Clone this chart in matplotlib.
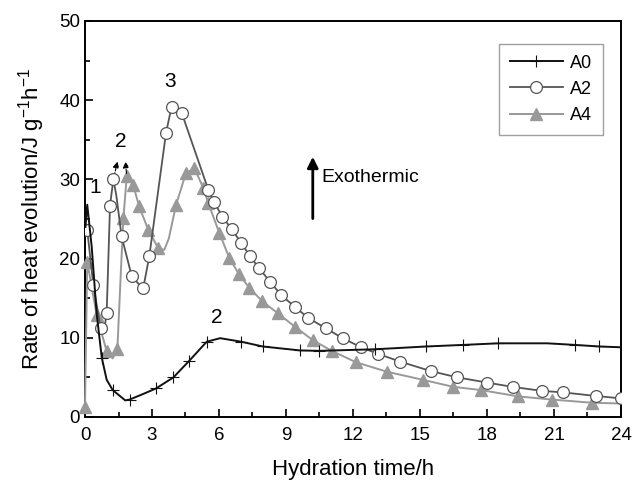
import matplotlib
matplotlib.use('Agg')
import matplotlib.pyplot as plt
from matplotlib.lines import Line2D

plt.rcParams['font.family'] = ['Liberation Sans', 'DejaVu Sans']
plt.rcParams['mathtext.fontset'] = 'custom'
plt.rcParams['mathtext.rm'] = 'Liberation Sans'
plt.rcParams['mathtext.it'] = 'Liberation Sans'

# A0: hydration time (h) / heat rate, marker indices
a0_h = [0.02, 0.1, 0.3, 0.52, 0.75, 0.97, 1.24, 1.8, 2.0, 2.6, 3.18, 3.96, 4.67, 5.45, 6.05,
        7.0, 7.96, 9.63, 10.5, 13.0, 15.27, 16.94, 18.5, 20.7, 21.94, 23.03, 24.0]
a0_v = [24.0, 26.8, 21.5, 13.1, 7.5, 4.7, 3.4, 2.1, 2.2, 2.9, 3.6, 5.0, 7.1, 9.5, 9.95,
        9.5, 8.9, 8.4, 8.35, 8.55, 8.9, 9.1, 9.3, 9.3, 9.1, 8.9, 8.8]
a0_marks = [4, 6, 8, 10, 11, 12, 13, 15, 16, 17, 18, 19, 20, 21, 22, 24, 25]

a2_h = [0.1, 0.37, 0.7, 0.85, 0.97, 1.12, 1.27, 1.4, 1.64, 2.09, 2.4, 2.61, 2.88, 3.63, 3.88,
        4.33, 5.52, 5.79, 6.15, 6.57, 6.99, 7.39, 7.79, 8.28, 8.78, 9.4, 10.0, 10.78, 11.54,
        12.36, 13.1, 14.1, 15.48, 16.67, 17.99, 19.15, 20.45, 21.42, 22.88, 24.0]
a2_v = [23.6, 16.7, 11.2, 10.8, 13.1, 26.7, 30.0, 28.0, 22.8, 17.8, 16.8, 16.3, 20.3, 35.9, 39.2,
        38.4, 28.7, 27.1, 25.3, 23.7, 22.0, 20.3, 18.8, 17.1, 15.4, 13.9, 12.5, 11.2, 9.95,
        8.8, 8.0, 7.0, 5.8, 5.0, 4.35, 3.8, 3.3, 3.1, 2.65, 2.35]
a2_marks = [0, 1, 2, 4, 5, 6, 8, 9, 11, 12, 13, 14, 15, 16, 17, 18, 19, 20, 21, 22, 23, 24,
            25, 26, 27, 28, 29, 30, 31, 32, 33, 34, 35, 36, 37, 38, 39]

a4_h = [0.0, 0.1, 0.52, 0.97, 1.24, 1.45, 1.6, 1.72, 1.87, 2.16, 2.42, 2.84, 3.28, 3.55, 3.75,
        4.08, 4.52, 4.9, 5.3, 5.52, 6.02, 6.46, 6.9, 7.36, 7.94, 8.63, 9.4, 10.2, 11.05,
        12.14, 13.54, 15.12, 16.5, 17.73, 19.4, 20.9, 22.7, 24.0]
a4_v = [1.3, 19.6, 12.9, 8.3, 7.4, 8.6, 18.0, 25.1, 30.4, 29.3, 26.6, 23.6, 21.3, 21.1, 22.5,
        26.8, 30.8, 31.4, 28.9, 27.0, 23.2, 20.1, 18.0, 16.3, 14.6, 13.1, 11.4, 9.7, 8.35,
        6.9, 5.7, 4.7, 3.8, 3.4, 2.6, 2.2, 1.8, 1.7]
a4_marks = [0, 1, 2, 3, 5, 7, 8, 9, 10, 11, 12, 15, 16, 17, 18, 19, 20, 21, 22, 23, 24, 25,
            26, 27, 28, 29, 30, 31, 32, 33, 34, 35, 36]

c0, c2, c4 = '#111111', '#555555', '#999999'

fig = plt.figure(figsize=(6.32, 4.82), dpi=100)
ax = fig.add_axes([0.1345, 0.1349, 0.848, 0.8216])

ax.plot(a4_h, a4_v, color=c4, lw=1.4, marker='^', ms=8.5, mfc=c4, mec=c4,
        markevery=a4_marks, clip_on=False, zorder=3)
ax.plot(a2_h, a2_v, color=c2, lw=1.3, marker='o', ms=8.5, mfc='white', mec=c2, mew=0.9,
        markevery=a2_marks, zorder=4)
ax.plot(a0_h, a0_v, color=c0, lw=1.4, marker='+', ms=8, mew=0.8,
        markevery=a0_marks, zorder=5)

ax.set_xlim(0, 24)
ax.set_ylim(0, 50)
ax.set_xticks(range(0, 25, 3))
ax.set_xticks([1.5 + 3 * i for i in range(8)], minor=True)
ax.set_yticks(range(0, 51, 10))
ax.set_yticks(range(5, 50, 10), minor=True)
ax.tick_params(which='both', direction='in', labelsize=13.5, width=1.2)
ax.tick_params(axis='x', which='major', pad=7)
ax.tick_params(which='major', length=6)
ax.tick_params(which='minor', length=3.5)
for s in ax.spines.values():
    s.set_linewidth(1.4)

ax.set_xlabel('Hydration time/h', fontsize=16, labelpad=11)
ax.set_ylabel(r'Rate of heat evolution/J g$^{-1}$h$^{-1}$', fontsize=16, labelpad=9)

# peak labels
ax.text(0.45, 29.0, '1', fontsize=15, ha='center', va='center')
ax.text(1.62, 34.8, '2', fontsize=15, ha='center', va='center')
ax.text(3.8, 42.4, '3', fontsize=15, ha='center', va='center')
ax.text(5.9, 12.5, '2', fontsize=15, ha='center', va='center')
ax.annotate('', xy=(1.48, 32.6), xytext=(1.27, 30.0),
            arrowprops=dict(arrowstyle='-|>', ls='--', lw=0.8, color='black', mutation_scale=9))
ax.annotate('', xy=(1.8, 32.6), xytext=(1.87, 30.4),
            arrowprops=dict(arrowstyle='-|>', ls='--', lw=0.8, color='black', mutation_scale=9))

# exothermic arrow
ax.annotate('', xy=(10.2, 33.2), xytext=(10.2, 24.7),
            arrowprops=dict(arrowstyle='-|>', lw=2, color='black', mutation_scale=16))
ax.text(10.6, 30.2, 'Exothermic', fontsize=14, ha='left', va='center')

handles = [
    Line2D([], [], color=c0, lw=1.4, marker='+', ms=8, mew=0.8),
    Line2D([], [], color=c2, lw=1.3, marker='o', ms=8.5, mfc='white', mec=c2, mew=0.9),
    Line2D([], [], color=c4, lw=1.4, marker='^', ms=8.5, mfc=c4, mec=c4),
]
leg = ax.legend(handles, ['A0', 'A2', 'A4'], loc='upper right', bbox_to_anchor=(0.966, 0.942),
                borderaxespad=0, fontsize=13, frameon=True, fancybox=False, handlelength=2.9,
                labelspacing=0.5, borderpad=0.6, handletextpad=0.4, numpoints=1)
leg.get_frame().set_edgecolor('#888888')
leg.get_frame().set_linewidth(1.0)

fig.savefig('out.png', dpi=100)
